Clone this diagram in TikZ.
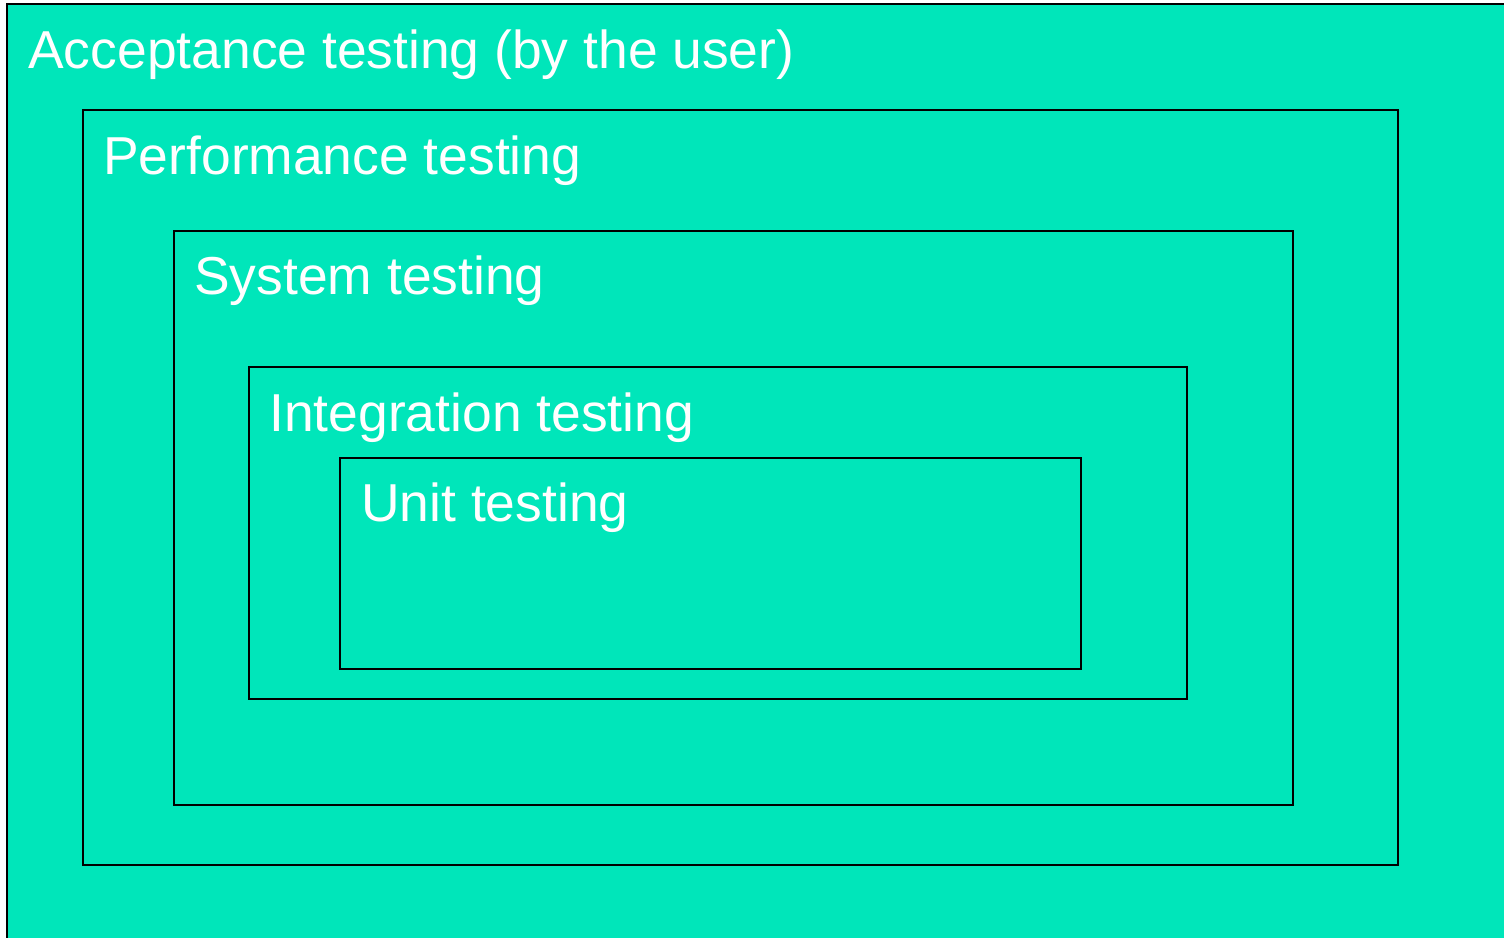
\documentclass[tikz,border=0pt]{standalone}
\usepackage{fontspec}
\setmainfont{Liberation Sans}
\definecolor{testgreen}{RGB}{0,230,186}

\begin{document}
\begin{tikzpicture}[x=0.02cm, y=-0.02cm,
		layer/.style={draw=black, line width=0.04cm, fill=testgreen},
		layertext/.style={text=white, font=\fontsize{30.4}{36}\selectfont, anchor=base west, inner sep=0pt}
	]

	\useasboundingbox (0,0) rectangle (1504,937);
	\clip (0,0) rectangle (1504,937);

	\draw[layer] (7,4) rectangle (1530,960);
	\draw[layer] (83,110) rectangle (1398,865);
	\draw[layer] (174,231) rectangle (1293,805);
	\draw[layer] (249,367) rectangle (1187,699);
	\draw[layer] (340,458) rectangle (1081,669);

	\node[layertext] (acceptance) at (28,68) {Acceptance testing (by the user)};
	\node[layertext] (performance) at (103,174) {Performance testing};
	\node[layertext] (system) at (194,294) {System testing};
	\node[layertext] (integration) at (269,431) {Integration testing};
	\node[layertext] (unit) at (361,521) {Unit testing};
\end{tikzpicture}
\end{document}
